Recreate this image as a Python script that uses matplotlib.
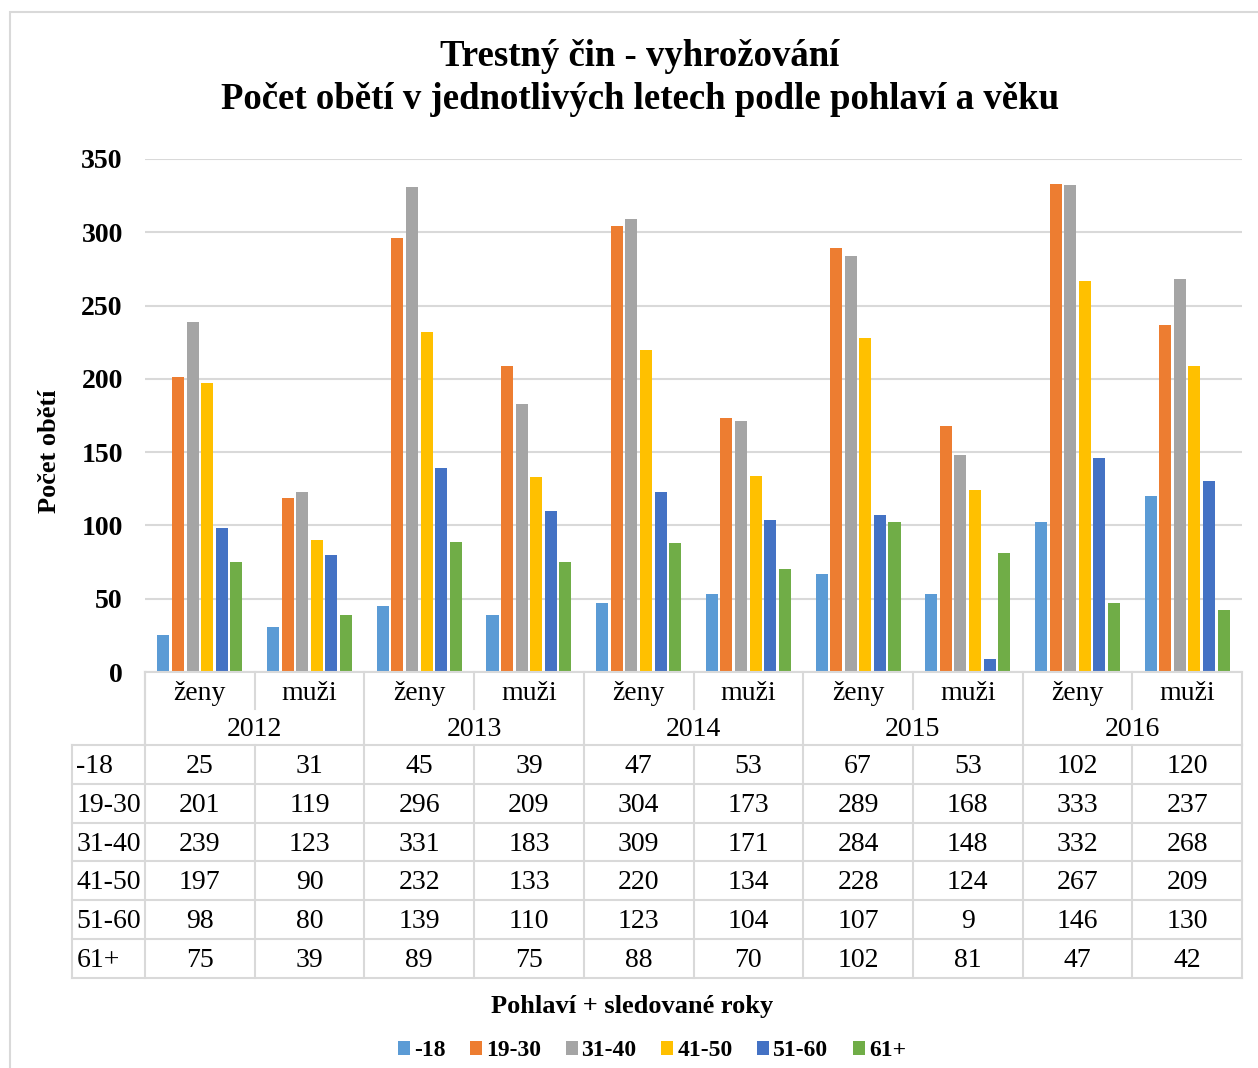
import matplotlib.pyplot as plt
from matplotlib.patches import Rectangle
import numpy as np

plt.rcParams['font.family'] = ['Liberation Serif', 'DejaVu Serif']

years = ['2012', '2013', '2014', '2015', '2016']
sexes = ['ženy', 'muži']
age_groups = ['-18', '19-30', '31-40', '41-50', '51-60', '61+']
v_18 = [25, 31, 45, 39, 47, 53, 67, 53, 102, 120]
v_19_30 = [201, 119, 296, 209, 304, 173, 289, 168, 333, 237]
v_31_40 = [239, 123, 331, 183, 309, 171, 284, 148, 332, 268]
v_41_50 = [197, 90, 232, 133, 220, 134, 228, 124, 267, 209]
v_51_60 = [98, 80, 139, 110, 123, 104, 107, 9, 146, 130]
v_61 = [75, 39, 89, 75, 88, 70, 102, 81, 47, 42]
series = [v_18, v_19_30, v_31_40, v_41_50, v_51_60, v_61]
colors = ['#5B9BD5', '#ED7D31', '#A5A5A5', '#FFC000', '#4472C4', '#70AD47']

W, H = 1258, 1068
fig = plt.figure(figsize=(W / 100, H / 100), dpi=100)
GRID = '#d9d9d9'
TFS = 20  # table font size


def px(x0, y0, x1, y1):
    # pixel box (top-left origin) -> figure fraction rect
    return [x0 / W, 1 - y1 / H, (x1 - x0) / W, (y1 - y0) / H]


# outer chart border
fig.patches.append(Rectangle((10 / W, -0.01), 1.1, 1 - 12 / H + 0.01,
                             transform=fig.transFigure, fill=False,
                             edgecolor=GRID, lw=1.5))

# ---- bar chart ----
ax = fig.add_axes(px(145, 159, 1242, 672))
n_cat = len(years) * len(sexes)
x = np.arange(n_cat) + 0.5
step = 0.133
bw = 0.11
for i, (vals, c, lab) in enumerate(zip(series, colors, age_groups)):
    ax.bar(x + (i - 2.5) * step, vals, width=bw, color=c, label=lab, zorder=3)

ax.set_xlim(0, n_cat)
ax.set_ylim(0, 350)
ax.set_yticks(np.arange(0, 351, 50))
ax.set_yticklabels([str(v) for v in range(0, 351, 50)], fontsize=20, fontweight='bold')
ax.tick_params(axis='y', length=0, pad=16)
ax.set_xticks([])
for s in ax.spines.values():
    s.set_visible(False)
ax.grid(axis='y', color=GRID, lw=1.5, zorder=0)
ax.set_ylabel('Počet obětí', fontsize=19, fontweight='bold')
ax.yaxis.set_label_coords(-0.077, 0.43)

# ---- data table under the axis ----
tab = fig.add_axes(px(72, 672, 1242, 978))
left_w = 73 / 109.7
tab.set_xlim(-left_w, n_cat)
tab.set_ylim(306, 0)
tab.axis('off')

row_edges = [0, 36.5, 73] + [73 + 38.83 * k for k in range(1, 7)]
lk = dict(color=GRID, lw=1.5, clip_on=False)

# header rows
tab.plot([0, n_cat], [0, 0], **lk)
tab.plot([0, 0], [0, 73], **lk)
for j in range(n_cat):
    if j % 2 == 1:
        tab.plot([j, j], [0, 36.5], **lk)
    else:
        tab.plot([j, j], [0, 73], **lk)
tab.plot([n_cat, n_cat], [0, 73], **lk)
for j in range(n_cat):
    tab.text(j + 0.5, 21, sexes[j % 2], ha='center', va='center', fontsize=TFS)
for k, y in enumerate(years):
    tab.text(2 * k + 1, 57.5, y, ha='center', va='center', fontsize=TFS)

# data rows
for e in row_edges[2:]:
    tab.plot([-left_w, n_cat], [e, e], **lk)
for j in [-left_w] + list(range(n_cat + 1)):
    tab.plot([j, j], [73, row_edges[-1]], **lk)
for r, (lab, vals) in enumerate(zip(age_groups, series)):
    yc = (row_edges[r + 2] + row_edges[r + 3]) / 2 + 2
    tab.text(-left_w + 0.04, yc, lab, ha='left', va='center', fontsize=TFS)
    for j, v in enumerate(vals):
        tab.text(j + 0.5, yc, str(v), ha='center', va='center', fontsize=TFS)

# ---- titles, axis label, legend ----
fig.text(640 / W, 1 - 56 / H, 'Trestný čin - vyhrožování', ha='center', va='center',
         fontsize=26.5, fontweight='bold')
fig.text(640 / W, 1 - 99 / H, 'Počet obětí v jednotlivých letech podle pohlaví a věku',
         ha='center', va='center', fontsize=26.5, fontweight='bold')
fig.text(632 / W, 1 - 1007 / H, 'Pohlaví + sledované roky', ha='center', va='center',
         fontsize=19, fontweight='bold')

handles, labels = ax.get_legend_handles_labels()
fig.legend(handles, labels, loc='center', bbox_to_anchor=(652 / W, 1 - 1051 / H),
           ncol=6, frameon=False, prop={'size': 17, 'weight': 'bold'},
           handlelength=0.5, handleheight=0.5, handletextpad=0.17, columnspacing=1.05)

fig.savefig('out.png', dpi=100)
